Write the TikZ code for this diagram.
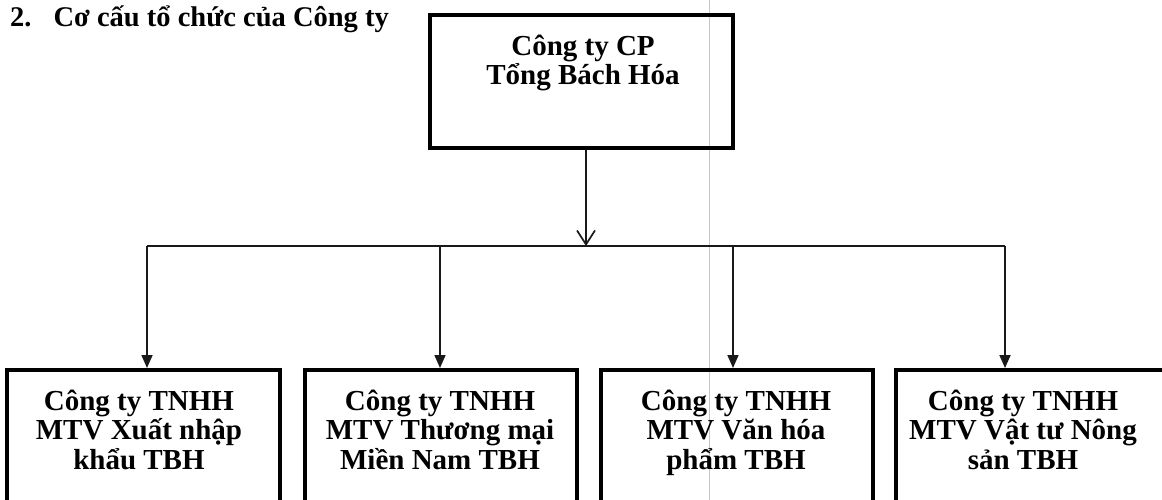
\documentclass[tikz,border=0pt]{standalone}
\usepackage{fontspec}
\setmainfont{Liberation Serif}
\usetikzlibrary{arrows.meta}
\newcommand\orgboxfont{\bfseries\fontsize{29}{29.5}\selectfont\setlength{\lineskiplimit}{-30pt}\relax}
\begin{document}
\begin{tikzpicture}[x=1pt,y=-1pt,
  orgbox/.style={draw=black,line width=4pt,inner sep=0pt,fill=none},
  boxtext/.style={align=center,inner sep=0pt,anchor=north,font=\orgboxfont},
  conn/.style={line width=1.7pt,draw=black!90},
  openarrow/.style={conn,-{Straight Barb[length=14pt,width=18pt,line width=1.7pt]}},
  fillarrow/.style={conn,-{Triangle[length=13pt,width=11pt]}}
]
\useasboundingbox (0,0) rectangle (1162,500);
\clip (0,0) rectangle (1162,500);
% scan fold line
\draw[gray!45,line width=0.8pt] (709,0) -- (709,500);

% title
\node[anchor=base west,inner sep=0pt,font=\bfseries\fontsize{28.5}{30}\selectfont] (title) at (10,27)
  {2.\hspace*{22pt}Cơ cấu tổ chức của Công ty};

% top box
\node[orgbox,minimum width=303pt,minimum height=133pt] (top) at (581.5,81.5) {};
\node[boxtext] (toptext) at (583,34.5) {Công ty CP\\ Tổng Bách Hóa};

% bottom boxes
\node[orgbox,minimum width=273pt,minimum height=170pt] (b1) at (143.5,455) {};
\node[orgbox,minimum width=272pt,minimum height=170pt] (b2) at (441,455) {};
\node[orgbox,minimum width=272pt,minimum height=170pt] (b3) at (737,455) {};
\node[orgbox,minimum width=270pt,minimum height=170pt] (b4) at (1031,455) {};

\node[boxtext] (t1) at (139,389.5) {Công ty TNHH\\ MTV Xuất nhập\\ khẩu TBH};
\node[boxtext] (t2) at (440,389.5) {Công ty TNHH\\ MTV Thương mại\\ Miền Nam TBH};
\node[boxtext] (t3) at (736,389.5) {Công ty TNHH\\ MTV Văn hóa\\ phẩm TBH};
\node[boxtext] (t4) at (1023,389.5) {Công ty TNHH\\ MTV Vật tư Nông\\ sản TBH};

% connectors
\coordinate (jx) at (586,246);
\coordinate (h1) at (147,246);
\coordinate (h2) at (440,246);
\coordinate (h3) at (733,246);
\coordinate (h4) at (1005,246);

\draw[openarrow] (top.south -| jx) -- (jx);
\draw[conn] (h1) -- (h4);
\draw[fillarrow] (h1) -- (h1 |- b1.north);
\draw[fillarrow] (h2) -- (h2 |- b2.north);
\draw[fillarrow] (h3) -- (h3 |- b3.north);
\draw[fillarrow] (h4) -- (h4 |- b4.north);
\end{tikzpicture}
\end{document}
